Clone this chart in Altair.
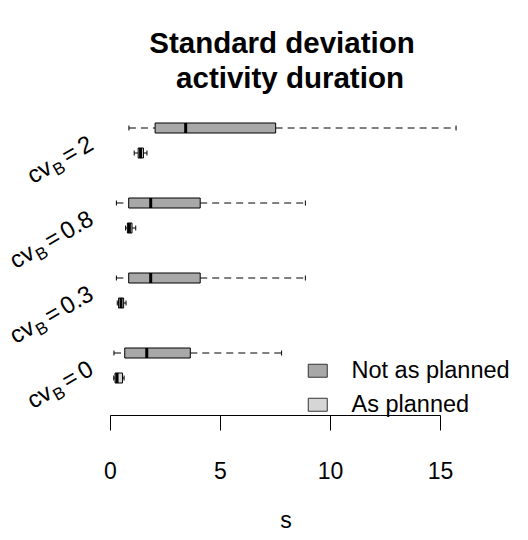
import altair as alt
import pandas as pd

# Coefficient-of-variation groups (top to bottom) and activity status
groups = ["2", "0.8", "0.3", "0"]
statuses = ["Not as planned", "As planned"]
status_colors = ["#a8a8a8", "#d6d6d6"]

# Box-plot summaries in seconds: whisker low, Q1, median, Q3, whisker high
not_lo = [0.86, 0.29, 0.29, 0.18]
not_q1 = [2.05, 0.85, 0.85, 0.67]
not_med = [3.44, 1.85, 1.85, 1.67]
not_q3 = [7.53, 4.10, 4.10, 3.65]
not_hi = [15.73, 8.88, 8.88, 7.80]

as_lo = [1.10, 0.71, 0.33, 0.17]
as_q1 = [1.28, 0.79, 0.39, 0.23]
as_med = [1.39, 0.88, 0.50, 0.32]
as_q3 = [1.52, 1.00, 0.62, 0.57]
as_hi = [1.68, 1.17, 0.73, 0.64]

x_ticks = [0, 5, 10, 15]

# Vertical slot of each box (one empty slot between groups)
not_slots = [11, 8, 5, 2]

FONT = "Liberation Sans"

rows = []
for i, g in enumerate(groups):
    rows.append(dict(group=g, status=statuses[0], slot=not_slots[i],
                     lo=not_lo[i], q1=not_q1[i], med=not_med[i], q3=not_q3[i], hi=not_hi[i]))
    rows.append(dict(group=g, status=statuses[1], slot=not_slots[i] - 1,
                     lo=as_lo[i], q1=as_q1[i], med=as_med[i], q3=as_q3[i], hi=as_hi[i]))
df = pd.DataFrame(rows)

x_scale = alt.Scale(domain=[0, 15], nice=False, zero=False)
y_scale = alt.Scale(domain=[-0.48, 16.12], nice=False, zero=False)

base = alt.Chart(df).transform_calculate(
    b0="datum.slot - 0.2", b1="datum.slot + 0.2",
    s0="datum.slot - 0.1", s1="datum.slot + 0.1",
)

x_axis = alt.Axis(values=x_ticks, tickSize=15, labelPadding=30, labelFontSize=23,
                  labelFont=FONT, labelColor="black", domainColor="black",
                  tickColor="black", grid=False, labelFlush=False, title=None)

whisk_lo = base.mark_rule(color="black", strokeWidth=1, strokeDash=[7, 5]).encode(
    x=alt.X("lo:Q", scale=x_scale, axis=x_axis), x2="q1:Q",
    y=alt.Y("slot:Q", scale=y_scale, axis=None))
whisk_hi = base.mark_rule(color="black", strokeWidth=1, strokeDash=[7, 5]).encode(
    x=alt.X("q3:Q", scale=x_scale, axis=x_axis), x2="hi:Q",
    y=alt.Y("slot:Q", scale=y_scale, axis=None))

staple_lo = base.mark_rule(color="black", strokeWidth=1).encode(
    x=alt.X("lo:Q", scale=x_scale, axis=x_axis),
    y=alt.Y("s0:Q", scale=y_scale, axis=None), y2="s1:Q")
staple_hi = base.mark_rule(color="black", strokeWidth=1).encode(
    x=alt.X("hi:Q", scale=x_scale, axis=x_axis),
    y=alt.Y("s0:Q", scale=y_scale, axis=None), y2="s1:Q")

legend = alt.Legend(
    orient="none", legendX=196, legendY=359, title=None, padding=0,
    symbolType="M-1,-0.684H1V0.684H-1Z", symbolSize=361,
    symbolStrokeColor="#333333", symbolStrokeWidth=1, symbolOpacity=1,
    labelFontSize=23.5, labelFont=FONT, labelColor="black",
    labelOffset=22, rowPadding=9,
)

boxes = base.mark_rect(stroke="black", strokeWidth=1, opacity=1).encode(
    x=alt.X("q1:Q", scale=x_scale, axis=x_axis), x2="q3:Q",
    y=alt.Y("b0:Q", scale=y_scale, axis=None), y2="b1:Q",
    fill=alt.Fill("status:N", scale=alt.Scale(domain=statuses, range=status_colors),
                  legend=legend),
)

medians = base.mark_rule(color="black", strokeWidth=3).encode(
    x=alt.X("med:Q", scale=x_scale, axis=x_axis),
    y=alt.Y("b0:Q", scale=y_scale, axis=None), y2="b1:Q")

# Rotated group labels "cv_B = value", built from pieces so B can be a subscript
CHAR_W = {"c": 0.5, "v": 0.5, "B": 0.667, "=": 0.584, ".": 0.278}


def text_width(s, size):
    return sum(CHAR_W.get(ch, 0.556) for ch in s) * size


label_layers = []
for i, g in enumerate(groups):
    ldf = pd.DataFrame({"ly": [not_slots[i] - 0.82]})
    w_val = text_width(g, 24)
    w_eq = text_width("=", 24)
    w_b = text_width("B", 17)
    pieces = [
        (g, 24, 0, 0),
        ("=", 24, -(w_val + 4), 0),
        ("B", 17, -(w_val + 4 + w_eq + 4), 5),
        ("cv", 24, -(w_val + 4 + w_eq + 4 + w_b + 1), 0),
    ]
    for txt, size, dx, dy in pieces:
        label_layers.append(
            alt.Chart(ldf).mark_text(
                text=txt, angle=330, align="right", baseline="alphabetic",
                fontSize=size, font=FONT, color="black", dx=dx, dy=dy,
            ).encode(x=alt.value(-15), y=alt.Y("ly:Q", scale=y_scale, axis=None))
        )

one = pd.DataFrame({"k": [0]})
title1 = alt.Chart(one).mark_text(
    text="Standard deviation", fontSize=29.5, fontWeight="bold", font=FONT,
    align="center", baseline="alphabetic", color="black",
).encode(x=alt.value(172), y=alt.value(53))
title2 = alt.Chart(one).mark_text(
    text="activity duration", fontSize=29.5, fontWeight="bold", font=FONT,
    align="center", baseline="alphabetic", color="black",
).encode(x=alt.value(180), y=alt.value(88))
x_title = alt.Chart(one).mark_text(
    text="s", fontSize=23, font=FONT, align="center", baseline="alphabetic",
    color="black",
).encode(x=alt.value(176), y=alt.value(528))

chart = alt.layer(
    whisk_lo, whisk_hi, boxes, medians, staple_lo, staple_hi,
    *label_layers, title1, title2, x_title,
).properties(
    width=330, height=415,
    autosize=alt.AutoSizeParams(type="none"),
    padding={"left": 110, "top": 0, "right": 88, "bottom": 125},
    background="white",
).configure_view(stroke=None)

chart.save("out.html", embed_options={"renderer": "svg", "actions": False})
